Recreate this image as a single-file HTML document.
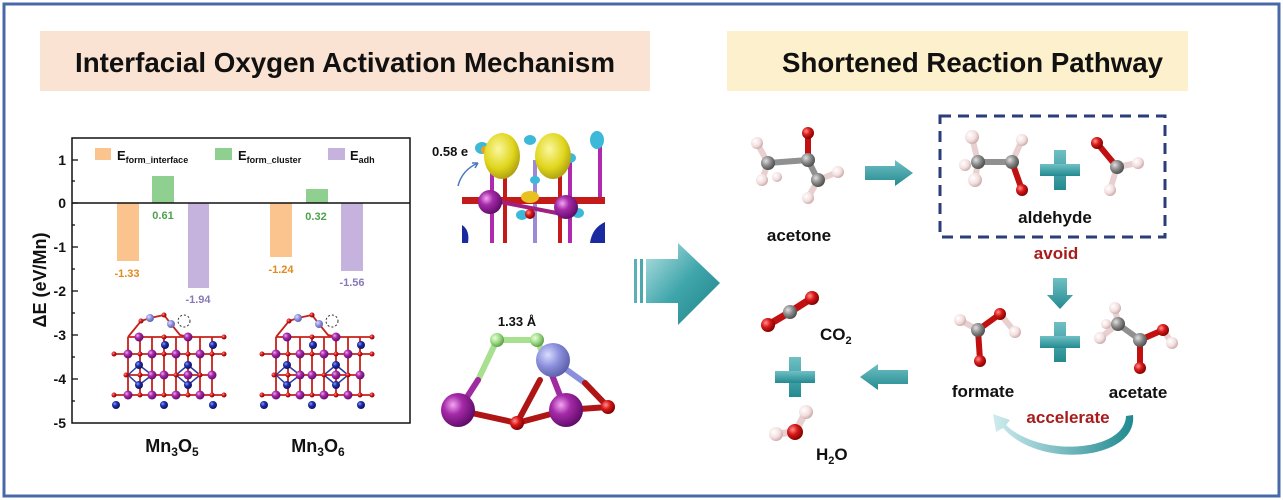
<!DOCTYPE html>
<html><head><meta charset="utf-8"><style>
html,body{margin:0;padding:0;background:#fff;}
svg{display:block;}
text{font-family:"Liberation Sans",Arial,sans-serif;font-weight:bold;}
</style></head><body>
<svg width="1283" height="500" viewBox="0 0 1283 500" xmlns="http://www.w3.org/2000/svg">
<defs>
<radialGradient id="gP" cx="0.35" cy="0.35" r="0.7"><stop offset="0" stop-color="#f2a6f2"/><stop offset="0.4" stop-color="#a52aa8"/><stop offset="1" stop-color="#5e0a66"/></radialGradient>
<radialGradient id="gB" cx="0.35" cy="0.35" r="0.7"><stop offset="0" stop-color="#8a9aff"/><stop offset="0.4" stop-color="#1f2fa8"/><stop offset="1" stop-color="#0b1060"/></radialGradient>
<radialGradient id="gR" cx="0.35" cy="0.35" r="0.7"><stop offset="0" stop-color="#ff9090"/><stop offset="0.45" stop-color="#d81818"/><stop offset="1" stop-color="#7a0000"/></radialGradient>
<radialGradient id="gC" cx="0.35" cy="0.35" r="0.7"><stop offset="0" stop-color="#e0e0e0"/><stop offset="0.5" stop-color="#8a8a8a"/><stop offset="1" stop-color="#4a4a4a"/></radialGradient>
<radialGradient id="gH" cx="0.35" cy="0.35" r="0.7"><stop offset="0" stop-color="#ffffff"/><stop offset="0.6" stop-color="#f3dede"/><stop offset="1" stop-color="#c8a8a8"/></radialGradient>
<radialGradient id="gG" cx="0.35" cy="0.35" r="0.7"><stop offset="0" stop-color="#e8ffd8"/><stop offset="0.5" stop-color="#9fdc88"/><stop offset="1" stop-color="#5a9a48"/></radialGradient>
<radialGradient id="gL" cx="0.35" cy="0.35" r="0.7"><stop offset="0" stop-color="#d8dcff"/><stop offset="0.5" stop-color="#8c90dc"/><stop offset="1" stop-color="#5a5ea8"/></radialGradient>
<radialGradient id="gY" cx="0.4" cy="0.35" r="0.7"><stop offset="0" stop-color="#fbf7a0"/><stop offset="0.6" stop-color="#e0d61c"/><stop offset="1" stop-color="#a89a10"/></radialGradient>
<linearGradient id="gT" x1="0" y1="0" x2="1" y2="1"><stop offset="0" stop-color="#b8e2e4"/><stop offset="0.5" stop-color="#3fa6ab"/><stop offset="1" stop-color="#1f8188"/></linearGradient>
<linearGradient id="gTv" x1="0" y1="0" x2="0" y2="1"><stop offset="0" stop-color="#6fc0c4"/><stop offset="1" stop-color="#238a90"/></linearGradient>
<linearGradient id="gTc" x1="1" y1="0" x2="0" y2="0"><stop offset="0" stop-color="#1f8a90"/><stop offset="1" stop-color="#cfecee"/></linearGradient>
<g id="struct">
 <g stroke="#c8201c" stroke-width="1.8" fill="none">
  <line x1="0" y1="41" x2="110" y2="41"/><line x1="0" y1="82" x2="110" y2="82"/><line x1="12" y1="62" x2="98" y2="62"/><line x1="14" y1="24" x2="110" y2="24"/>
  <line x1="14" y1="24" x2="14" y2="82"/><line x1="26" y1="24" x2="26" y2="82"/><line x1="38" y1="24" x2="38" y2="82"/><line x1="50" y1="24" x2="50" y2="82"/><line x1="62" y1="24" x2="62" y2="82"/><line x1="74" y1="24" x2="74" y2="82"/><line x1="86" y1="24" x2="86" y2="82"/><line x1="98" y1="24" x2="98" y2="82"/>
  <polyline points="14,24 27,8 36,5 50,2 57,11 66,22 76,24"/>
 </g>
 <g stroke="#2a3aa0" stroke-width="1.5"><line x1="25" y1="52" x2="14" y2="62"/><line x1="25" y1="52" x2="38" y2="62"/><line x1="74" y1="52" x2="62" y2="62"/><line x1="74" y1="52" x2="86" y2="62"/><line x1="25" y1="72" x2="14" y2="62"/><line x1="25" y1="72" x2="38" y2="62"/><line x1="74" y1="72" x2="62" y2="62"/><line x1="74" y1="72" x2="86" y2="62"/></g>
 <g fill="url(#gR)"><circle cx="0" cy="41" r="2.5"/><circle cx="110" cy="41" r="2.5"/><circle cx="0" cy="82" r="2.5"/><circle cx="110" cy="82" r="2.5"/><circle cx="27" cy="8" r="2.5"/><circle cx="50" cy="2" r="2.5"/><circle cx="110" cy="24" r="2.5"/><circle cx="50" cy="41" r="2.5"/><circle cx="26" cy="41" r="2.5"/><circle cx="74" cy="41" r="2.5"/><circle cx="98" cy="41" r="2.5"/><circle cx="26" cy="82" r="2.5"/><circle cx="50" cy="82" r="2.5"/><circle cx="74" cy="82" r="2.5"/><circle cx="98" cy="82" r="2.5"/><circle cx="50" cy="24" r="2.5"/><circle cx="62" cy="62" r="2.5"/><circle cx="26" cy="62" r="2.5"/><circle cx="86" cy="62" r="2.5"/><circle cx="12" cy="62" r="2.5"/><circle cx="98" cy="62" r="2.5"/></g>
 <g fill="url(#gP)"><circle cx="25" cy="24" r="4.5"/><circle cx="74" cy="24" r="4.5"/><circle cx="14" cy="41" r="4.5"/><circle cx="38" cy="41" r="4.5"/><circle cx="62" cy="41" r="4.5"/><circle cx="86" cy="41" r="4.5"/><circle cx="38" cy="62" r="4.5"/><circle cx="50" cy="62" r="4.5"/><circle cx="74" cy="62" r="4.5"/><circle cx="98" cy="62" r="4.5"/><circle cx="14" cy="82" r="4.5"/><circle cx="38" cy="82" r="4.5"/><circle cx="62" cy="82" r="4.5"/><circle cx="86" cy="82" r="4.5"/></g>
 <g fill="url(#gB)"><circle cx="51" cy="32" r="4"/><circle cx="99" cy="32" r="4"/><circle cx="25" cy="52" r="4"/><circle cx="74" cy="52" r="4"/><circle cx="25" cy="72" r="4"/><circle cx="74" cy="72" r="4"/><circle cx="2" cy="92" r="4"/><circle cx="50" cy="92" r="4"/><circle cx="99" cy="92" r="4"/></g>
 <g fill="url(#gL)"><circle cx="36" cy="5" r="4"/><circle cx="57" cy="11" r="4"/></g>
 <circle cx="70" cy="8" r="6" fill="none" stroke="#333" stroke-width="1" stroke-dasharray="2,2"/>
</g>
</defs>

<rect x="4" y="4" width="1275" height="492" fill="#fff" stroke="#4868a8" stroke-width="3"/>

<rect x="40" y="31" width="610" height="60" fill="#fbe3d3"/>
<text x="75" y="72" font-size="28" textLength="540" lengthAdjust="spacingAndGlyphs" fill="#111">Interfacial Oxygen Activation Mechanism</text>
<rect x="727" y="31" width="461" height="60" fill="#fdf0cc"/>
<text x="782" y="72" font-size="28" textLength="381" lengthAdjust="spacingAndGlyphs" fill="#111">Shortened Reaction Pathway</text>

<!-- chart -->
<rect x="117" y="203" width="22" height="58" fill="#fbc48e"/>
<rect x="152" y="176" width="22" height="27" fill="#8fcf90"/>
<rect x="188" y="203" width="21" height="85" fill="#c5b3de"/>
<rect x="270" y="203" width="22" height="54" fill="#fbc48e"/>
<rect x="306" y="189" width="22" height="14" fill="#8fcf90"/>
<rect x="341" y="203" width="22" height="68" fill="#c5b3de"/>
<line x1="72" y1="203" x2="410" y2="203" stroke="#111" stroke-width="1.5"/>
<rect x="72" y="138" width="338" height="285" fill="none" stroke="#111" stroke-width="1.5"/>
<g stroke="#111" stroke-width="1.3">
<line x1="72" y1="160" x2="78" y2="160"/><line x1="72" y1="203" x2="78" y2="203"/><line x1="72" y1="247" x2="78" y2="247"/><line x1="72" y1="291" x2="78" y2="291"/><line x1="72" y1="335" x2="78" y2="335"/><line x1="72" y1="379" x2="78" y2="379"/>
<line x1="72" y1="181" x2="75" y2="181"/><line x1="72" y1="225" x2="75" y2="225"/><line x1="72" y1="269" x2="75" y2="269"/><line x1="72" y1="313" x2="75" y2="313"/><line x1="72" y1="357" x2="75" y2="357"/><line x1="72" y1="401" x2="75" y2="401"/>
</g>
<g font-size="14" text-anchor="end" fill="#111">
<text x="66" y="165">1</text><text x="66" y="208">0</text><text x="66" y="252">-1</text><text x="66" y="296">-2</text><text x="66" y="340">-3</text><text x="66" y="384">-4</text><text x="66" y="428">-5</text>
</g>
<text transform="translate(46,280) rotate(-90)" font-size="18" text-anchor="middle" fill="#111">ΔE (eV/Mn)</text>
<rect x="95" y="148" width="16" height="12" fill="#fbc48e"/>
<text x="117" y="160" font-size="13" fill="#111">E<tspan font-size="9" dy="3">form_interface</tspan></text>
<rect x="215" y="148" width="17" height="12" fill="#8fcf90"/>
<text x="238" y="160" font-size="13" fill="#111">E<tspan font-size="9" dy="3">form_cluster</tspan></text>
<rect x="328" y="148" width="17" height="12" fill="#c5b3de"/>
<text x="350" y="160" font-size="13" fill="#111">E<tspan font-size="9" dy="3">adh</tspan></text>
<g font-size="11" text-anchor="middle">
<text x="127" y="277" fill="#e08a20">-1.33</text><text x="163" y="219" fill="#4fa050">0.61</text><text x="198" y="303" fill="#8a78b8">-1.94</text>
<text x="281" y="273" fill="#e08a20">-1.24</text><text x="316" y="220" fill="#4fa050">0.32</text><text x="352" y="286" fill="#8a78b8">-1.56</text>
</g>
<use href="#struct" x="114" y="313"/>
<use href="#struct" x="262" y="313"/>
<text x="172" y="452" font-size="18" text-anchor="middle" fill="#111">Mn<tspan font-size="12" dy="4">3</tspan><tspan dy="-4">O</tspan><tspan font-size="12" dy="4">5</tspan></text>
<text x="318" y="452" font-size="18" text-anchor="middle" fill="#111">Mn<tspan font-size="12" dy="4">3</tspan><tspan dy="-4">O</tspan><tspan font-size="12" dy="4">6</tspan></text>

<!-- charge density -->
<g>
<g stroke-width="4"><line x1="492" y1="160" x2="492" y2="243" stroke="#b02ab0"/><line x1="505" y1="170" x2="505" y2="243" stroke="#c41a1a"/><line x1="535" y1="160" x2="535" y2="243" stroke="#9a8ad8"/><line x1="560" y1="170" x2="560" y2="243" stroke="#c41a1a"/><line x1="570" y1="160" x2="570" y2="243" stroke="#b02ab0"/><line x1="600" y1="140" x2="600" y2="200" stroke="#b02ab0"/></g>
<rect x="462" y="197" width="143" height="7" fill="#c41a1a"/>
<line x1="490" y1="200" x2="567" y2="215" stroke="#a02080" stroke-width="4"/>
<path d="M462,243 L462,225 Q470,230 468,243Z" fill="#1a2aa0"/>
<path d="M590,243 Q592,228 605,222 L605,243Z" fill="#1a2aa0"/>
<ellipse cx="482" cy="148" rx="7" ry="6" fill="#3cb8d8"/><ellipse cx="530" cy="140" rx="6" ry="5" fill="#3cb8d8"/><ellipse cx="597" cy="140" rx="7" ry="9" fill="#3cb8d8"/><ellipse cx="570" cy="158" rx="6" ry="5" fill="#3cb8d8"/><ellipse cx="522" cy="215" rx="6" ry="5" fill="#3cb8d8"/><ellipse cx="578" cy="213" rx="6" ry="5" fill="#3cb8d8"/><ellipse cx="535" cy="180" rx="5" ry="4" fill="#3cb8d8"/>
<ellipse cx="485" cy="150" rx="4" ry="4" fill="#f0a020"/><ellipse cx="530" cy="197" rx="9" ry="6" fill="#e8c020"/>
<ellipse cx="502" cy="156" rx="18" ry="23" fill="url(#gY)"/>
<ellipse cx="553" cy="156" rx="18" ry="23" fill="url(#gY)"/>
<circle cx="490" cy="202" r="12" fill="url(#gP)"/>
<circle cx="566" cy="207" r="12" fill="url(#gP)"/>
<circle cx="530" cy="214" r="5" fill="url(#gR)"/>
</g>
<text x="432" y="156" font-size="13" fill="#111">0.58 e</text>
<path d="M458,186 Q462,170 478,163" fill="none" stroke="#4a78c0" stroke-width="1.5"/>
<path d="M478,163 l-6,0 M478,163 l-3,5" stroke="#4a78c0" stroke-width="1.5"/>

<!-- 1.33 A molecule -->
<g stroke-width="6" stroke-linecap="round">
<line x1="497" y1="340" x2="537" y2="340" stroke="#a8e090"/>
<line x1="497" y1="340" x2="478" y2="380" stroke="#a8e090"/>
<line x1="478" y1="380" x2="460" y2="408" stroke="#a02aa0"/>
<line x1="537" y1="340" x2="550" y2="370" stroke="#a8e090"/>
<line x1="550" y1="370" x2="565" y2="408" stroke="#a02aa0"/>
<line x1="458" y1="410" x2="517" y2="423" stroke="#b01515"/>
<line x1="517" y1="423" x2="566" y2="410" stroke="#b01515"/>
<line x1="517" y1="423" x2="540" y2="380" stroke="#b01515"/>
<line x1="566" y1="410" x2="608" y2="407" stroke="#b01515"/>
<line x1="560" y1="365" x2="585" y2="383" stroke="#8c90dc"/>
<line x1="585" y1="383" x2="608" y2="407" stroke="#b01515"/>
</g>
<circle cx="553" cy="360" r="17" fill="url(#gL)"/>
<circle cx="497" cy="340" r="7" fill="url(#gG)"/>
<circle cx="537" cy="340" r="7" fill="url(#gG)"/>
<circle cx="458" cy="410" r="17" fill="url(#gP)"/>
<circle cx="566" cy="410" r="17" fill="url(#gP)"/>
<circle cx="517" cy="423" r="7" fill="url(#gR)"/>
<circle cx="608" cy="407" r="7" fill="url(#gR)"/>
<text x="517" y="326" font-size="13" text-anchor="middle" fill="#111">1.33 Å</text>

<!-- big arrow -->
<rect x="634" y="259" width="3" height="44" fill="#5ab0b4"/>
<rect x="640" y="259" width="3" height="44" fill="#4aa8ac"/>
<path d="M646,259 L678,259 L678,243 L720,283 L678,325 L678,303 L646,303Z" fill="url(#gT)"/>

<!-- right side arrows -->
<path d="M865,166 L895,166 L895,160 L913,173 L895,186 L895,180 L865,180Z" fill="url(#gTv)"/>
<path d="M1053,278 L1067,278 L1067,295 L1073,295 L1060,309 L1047,295 L1053,295Z" fill="url(#gTv)"/>
<path d="M908,370 L878,370 L878,364 L860,377 L878,390 L878,384 L908,384Z" fill="url(#gTv)"/>
<g fill="url(#gTv)">
<rect x="1054" y="150" width="12" height="40"/><rect x="1040" y="164" width="40" height="12"/>
<rect x="1054" y="322" width="12" height="40"/><rect x="1040" y="336" width="40" height="12"/>
<rect x="789" y="357" width="12" height="40"/><rect x="775" y="371" width="40" height="12"/>
</g>
<path d="M1133,415 C1138,460 1040,470 1003,428 L996,432 L993,414 L1010,420 L1006,425 C1040,458 1125,452 1126,416Z" fill="url(#gTc)"/>

<rect x="940" y="116" width="225" height="121" fill="none" stroke="#2a3e78" stroke-width="3" stroke-dasharray="11,7"/>

<!-- acetone -->
<g stroke-width="6" stroke-linecap="round"><line x1="768" y1="163" x2="808" y2="160" stroke="#909090"/><line x1="808" y1="160" x2="818" y2="180" stroke="#909090"/><line x1="808" y1="160" x2="808" y2="133" stroke="#c01010"/><line x1="768" y1="163" x2="757" y2="143" stroke="#e8d0d0"/><line x1="768" y1="163" x2="762" y2="180" stroke="#e8d0d0"/><line x1="818" y1="180" x2="838" y2="172" stroke="#e8d0d0"/><line x1="818" y1="180" x2="808" y2="198" stroke="#e8d0d0"/></g>
<circle cx="757" cy="143" r="6" fill="url(#gH)"/><circle cx="762" cy="180" r="6" fill="url(#gH)"/><circle cx="838" cy="172" r="6" fill="url(#gH)"/><circle cx="808" cy="198" r="6" fill="url(#gH)"/><circle cx="777" cy="177" r="5" fill="url(#gH)"/>
<circle cx="768" cy="163" r="7" fill="url(#gC)"/><circle cx="808" cy="160" r="7" fill="url(#gC)"/><circle cx="818" cy="180" r="7" fill="url(#gC)"/><circle cx="808" cy="133" r="6" fill="url(#gR)"/>
<text x="799" y="241" font-size="17" text-anchor="middle" fill="#111">acetone</text>

<!-- aldehyde -->
<g stroke-width="6" stroke-linecap="round"><line x1="978" y1="162" x2="1012" y2="162" stroke="#909090"/><line x1="1012" y1="162" x2="1022" y2="190" stroke="#c01010"/><line x1="978" y1="162" x2="972" y2="137" stroke="#e8d0d0"/><line x1="1012" y1="162" x2="1022" y2="140" stroke="#e8d0d0"/><line x1="978" y1="162" x2="975" y2="180" stroke="#e8d0d0"/><line x1="1097" y1="143" x2="1117" y2="167" stroke="#c01010"/><line x1="1117" y1="167" x2="1138" y2="163" stroke="#e8d0d0"/><line x1="1117" y1="167" x2="1110" y2="190" stroke="#e8d0d0"/></g>
<circle cx="972" cy="137" r="7" fill="url(#gH)"/><circle cx="1022" cy="140" r="6" fill="url(#gH)"/><circle cx="975" cy="180" r="7" fill="url(#gH)"/><circle cx="965" cy="165" r="6" fill="url(#gH)"/>
<circle cx="978" cy="162" r="7" fill="url(#gC)"/><circle cx="1012" cy="162" r="7" fill="url(#gC)"/><circle cx="1022" cy="190" r="6" fill="url(#gR)"/>
<circle cx="1138" cy="163" r="6" fill="url(#gH)"/><circle cx="1110" cy="190" r="6" fill="url(#gH)"/><circle cx="1117" cy="167" r="7" fill="url(#gC)"/><circle cx="1097" cy="143" r="6" fill="url(#gR)"/>
<text x="1055" y="223" font-size="17" text-anchor="middle" fill="#111">aldehyde</text>
<text x="1056" y="259" font-size="17" text-anchor="middle" fill="#a81c1c">avoid</text>

<!-- formate -->
<g stroke-width="6" stroke-linecap="round"><line x1="978" y1="330" x2="980" y2="360" stroke="#c01010"/><line x1="978" y1="330" x2="1000" y2="314" stroke="#c01010"/><line x1="1000" y1="314" x2="1015" y2="332" stroke="#e8d0d0"/><line x1="978" y1="330" x2="960" y2="320" stroke="#e8d0d0"/></g>
<circle cx="960" cy="320" r="6" fill="url(#gH)"/><circle cx="1015" cy="332" r="6" fill="url(#gH)"/><circle cx="978" cy="330" r="7" fill="url(#gC)"/><circle cx="980" cy="361" r="6" fill="url(#gR)"/><circle cx="1000" cy="314" r="6" fill="url(#gR)"/>
<text x="983" y="397" font-size="17" text-anchor="middle" fill="#111">formate</text>
<!-- acetate -->
<g stroke-width="6" stroke-linecap="round"><line x1="1118" y1="324" x2="1140" y2="340" stroke="#909090"/><line x1="1140" y1="340" x2="1163" y2="330" stroke="#c01010"/><line x1="1140" y1="340" x2="1140" y2="368" stroke="#c01010"/><line x1="1163" y1="330" x2="1172" y2="343" stroke="#e8d0d0"/><line x1="1118" y1="324" x2="1115" y2="308" stroke="#e8d0d0"/><line x1="1118" y1="324" x2="1100" y2="338" stroke="#e8d0d0"/></g>
<circle cx="1115" cy="308" r="6" fill="url(#gH)"/><circle cx="1100" cy="338" r="6" fill="url(#gH)"/><circle cx="1106" cy="324" r="5" fill="url(#gH)"/><circle cx="1172" cy="343" r="6" fill="url(#gH)"/>
<circle cx="1118" cy="324" r="7" fill="url(#gC)"/><circle cx="1140" cy="340" r="7" fill="url(#gC)"/><circle cx="1163" cy="330" r="6" fill="url(#gR)"/><circle cx="1140" cy="368" r="6" fill="url(#gR)"/>
<text x="1138" y="398" font-size="17" text-anchor="middle" fill="#111">acetate</text>
<text x="1068" y="423" font-size="17" text-anchor="middle" fill="#a81c1c">accelerate</text>

<!-- CO2, H2O -->
<g stroke-width="7" stroke-linecap="round"><line x1="768" y1="325" x2="790" y2="312" stroke="#c01010"/><line x1="790" y1="312" x2="812" y2="298" stroke="#c01010"/><line x1="795" y1="432" x2="776" y2="434" stroke="#e8d0d0"/><line x1="795" y1="432" x2="806" y2="412" stroke="#e8d0d0"/></g>
<circle cx="768" cy="325" r="7" fill="url(#gR)"/><circle cx="790" cy="312" r="7" fill="url(#gC)"/><circle cx="812" cy="298" r="7" fill="url(#gR)"/>
<circle cx="776" cy="434" r="7" fill="url(#gH)"/><circle cx="806" cy="412" r="7" fill="url(#gH)"/><circle cx="795" cy="432" r="8" fill="url(#gR)"/>
<text x="820" y="340" font-size="17" fill="#111">CO<tspan font-size="11" dy="4">2</tspan></text>
<text x="816" y="460" font-size="17" fill="#111">H<tspan font-size="11" dy="4">2</tspan><tspan dy="-4">O</tspan></text>
</svg>
</body></html>
